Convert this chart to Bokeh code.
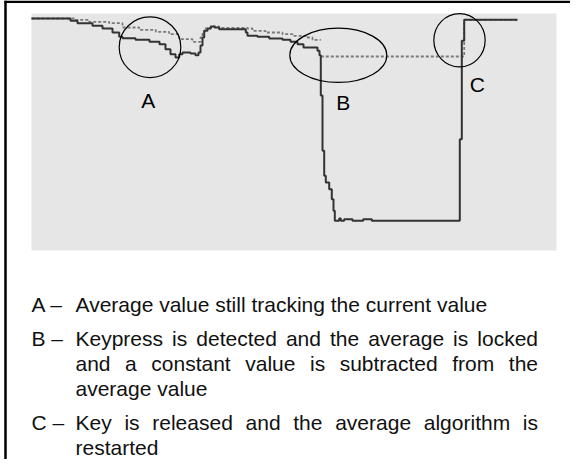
from bokeh.plotting import figure
from bokeh.models import Range1d, ColumnDataSource
from bokeh.core.properties import value
from bokeh.embed import file_html
from bokeh.resources import INLINE

# ---------------- data (sample index vs. sensor value) ----------------
x_lim = [0, 525]
y_lim = [0, 237]

cur_x = [0, 39, 46, 61, 71, 81, 87.7, 91, 104, 118,
         128, 134, 139, 144, 147.7, 151, 159, 164, 167, 169,
         171, 172.7, 176, 179.3, 183, 187.7, 214.3, 216, 226, 237.7,
         251, 259, 266, 272, 286, 288, 289.3, 291, 292.7, 294.3,
         297.7, 300.3, 302, 303.3, 307.7, 309.3, 312.7, 321, 331.7, 340.3,
         428.3, 430.3, 432.7, 486]
cur_y = [232, 229.7, 227.3, 224.7, 222, 218, 213.7, 212.3, 210.7, 208.7,
         206.3, 201.3, 196.3, 193, 196.3, 198, 197, 195.3, 198, 205,
         213, 219.7, 222, 224, 223, 221.3, 218, 214.7, 213.7, 212,
         210.7, 208.7, 206.3, 203, 199.7, 195.3, 155, 99.7, 74.7, 68,
         61.3, 51.3, 39.7, 29.7, 32, 29.7, 31.3, 29.7, 31.3, 29.7,
         111.3, 209.7, 230.7, 230.7]

avg_x = [0, 44.3, 57.7, 77.7, 91, 107.7, 124.3, 137.7, 147.7, 161,
         169, 171, 173, 179.3, 187.7, 216, 221, 234, 251, 261,
         274, 281, 289.3]
avg_y = [232, 230.7, 228.7, 227.3, 223, 220.7, 218.7, 216.3, 211.3, 208.7,
         213, 218, 222, 224, 222.5, 222, 219.7, 218, 216.3, 214.7,
         213, 210.7, 210.7]

lock_x = [289.3, 432.7, 486]
lock_y = [194, 230.7, 230.7]

mark_names = ["A", "B", "C"]
mark_cx = [118.5, 306.8, 428]
mark_cy = [203.3, 195.2, 210.3]
mark_w = [61.6, 97, 51.3]
mark_h = [60.7, 54.3, 53.3]
label_x = [116.8, 311.8, 445.8]
label_y = [149.7, 148, 165.7]

desc_keys = ["A \u2013", "B \u2013", "C \u2013"]
desc_lines = [
    [("Average value still tracking the current value", False)],
    [("Keypress is detected and the average is locked", True),
     ("and a constant value is subtracted from the", True),
     ("average value", False)],
    [("Key is released and the average algorithm is", True),
     ("restarted", False)],
]

# ---------------- layout ----------------
W, H = 570, 459
frame_l, frame_t, frame_w, frame_h = 31, 13, 525, 237
FONT = "Liberation Sans"
FS = 21

sx = (x_lim[1] - x_lim[0]) / frame_w
sy = (y_lim[1] - y_lim[0]) / frame_h
data_xr = Range1d(x_lim[0] - frame_l * sx, x_lim[1] + (W - frame_l - frame_w) * sx)
data_yr = Range1d(y_lim[0] - (H - frame_t - frame_h) * sy, y_lim[1] + frame_t * sy)

p = figure(width=W, height=H, x_range=Range1d(0, W), y_range=Range1d(H, 0),
           output_backend="svg", toolbar_location=None, min_border=0,
           x_axis_location=None, y_axis_location=None)
p.grid.visible = False
p.outline_line_color = None
p.background_fill_color = "white"
p.border_fill_color = "white"
p.extra_x_ranges = {"data": data_xr}
p.extra_y_ranges = {"data": data_yr}
kw = dict(x_range_name="data", y_range_name="data")

# frame lines (left and top)
p.segment(x0=[5, 4], y0=[0, 1.25], x1=[5, W], y1=[H, 1.25],
          line_color="black", line_width=2.5)

# plot background
p.quad(left=[x_lim[0]], right=[x_lim[1]], bottom=[y_lim[0]], top=[y_lim[1]],
       fill_color="#e6e6e6", line_color=None, **kw)

# average (dashed) and current (solid)
p.step(avg_x, avg_y, mode="after", line_color="#7a7a7a", line_width=1.8,
       line_dash="3 2", **kw)
p.step(lock_x, lock_y, mode="after", line_color="#7a7a7a", line_width=1.8,
       line_dash="3 2", **kw)
p.step(cur_x, cur_y, mode="after", line_color="#333333", line_width=2, **kw)

# annotation ellipses + letters
p.ellipse(x=mark_cx, y=mark_cy, width=mark_w, height=mark_h,
          fill_color=None, line_color="black", line_width=1.2, **kw)
p.text(x=label_x, y=label_y, text=mark_names, text_font=value(FONT),
       text_font_size=f"{FS}px", text_align="center",
       text_baseline="alphabetic", text_color="black", **kw)

# ---------------- description text ----------------
CW = {' ': 278, 'a': 556, 'b': 556, 'c': 500, 'd': 556, 'e': 556, 'f': 278,
      'g': 556, 'h': 556, 'i': 222, 'j': 222, 'k': 500, 'l': 222, 'm': 833,
      'n': 556, 'o': 556, 'p': 556, 'q': 556, 'r': 333, 's': 500, 't': 278,
      'u': 556, 'v': 500, 'w': 722, 'x': 500, 'y': 500, 'z': 500, 'K': 667,
      'A': 667, 'B': 667, 'C': 722}


def tw(s):
    return sum(CW.get(c, 556) for c in s) * FS / 1000.0


key_x = 31
body_x0, body_x1 = 75, 537.5
para_y = [304, 338, 422]
line_gap = 25

tx, ty, tt = [], [], []
for key, lines, y0 in zip(desc_keys, desc_lines, para_y):
    tx.append(key_x); ty.append(y0); tt.append(key)
    for i, (line, justify) in enumerate(lines):
        y = y0 + i * line_gap
        if not justify:
            tx.append(body_x0); ty.append(y); tt.append(line)
            continue
        words = line.split(" ")
        widths = [tw(w) for w in words]
        gap = (body_x1 - body_x0 - sum(widths)) / (len(words) - 1)
        x = body_x0
        for w, wd in zip(words, widths):
            tx.append(x); ty.append(y); tt.append(w)
            x += wd + gap

p.text(x=tx, y=ty, text=tt, text_font=value(FONT), text_font_size=f"{FS}px",
       text_align="left", text_baseline="alphabetic", text_color="#111111")

open("out.html", "w").write(file_html(p, INLINE))
